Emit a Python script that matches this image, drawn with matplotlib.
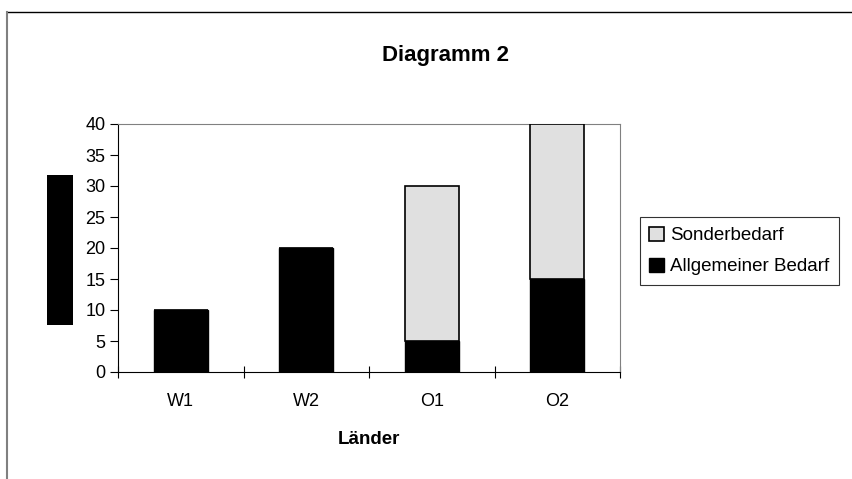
import matplotlib.pyplot as plt
from matplotlib.patches import Rectangle
from matplotlib.lines import Line2D
import numpy as np

plt.rcParams['font.family'] = ['Liberation Sans', 'DejaVu Sans']

laender = ['W1', 'W2', 'O1', 'O2']
allgemein = [10, 20, 5, 15]
sonder = [0, 0, 25, 25]
yticks = [0, 5, 10, 15, 20, 25, 30, 35, 40]

fig = plt.figure(figsize=(8.52, 4.79), dpi=100)
ax = fig.add_axes([118/852, 1-372/479, (620-118)/852, (372-124)/479])

x = np.arange(len(laender))
ax.bar(x, allgemein, width=0.43, color='black', edgecolor='black', label='Allgemeiner Bedarf', zorder=3)
ax.bar(x, sonder, width=0.43, bottom=allgemein, color='#e0e0e0', edgecolor='black', linewidth=1.2,
       label='Sonderbedarf', zorder=3)

ax.set_xlim(-0.5, 3.5)
ax.set_ylim(0, 40)
ax.set_yticks(yticks)
ax.set_xticks(np.arange(-0.5, 4, 1))
ax.set_xticklabels([])
ax.set_xticks(x, minor=True)
ax.set_xticklabels(laender, minor=True, fontsize=13)
ax.tick_params(axis='x', which='major', direction='inout', length=9, width=0.8)
ax.tick_params(axis='x', which='minor', length=0, pad=15)
ax.tick_params(axis='y', direction='out', length=6, width=0.8, labelsize=13, pad=3)
for s in ['top', 'right']:
    ax.spines[s].set_color('#808080')
for s in ['left', 'bottom']:
    ax.spines[s].set_color('black')

ax.set_xlabel('Länder', fontsize=13.5, fontweight='bold', labelpad=15)
fig.text(446/852, 1-56/479, 'Diagramm 2', ha='center', va='center', fontsize=16, fontweight='bold')

# schwarzer Block links (y-Achsentitel)
fig.patches.append(Rectangle((47/852, 1-325/479), 26/852, 150/479, transform=fig.transFigure,
                             facecolor='black', edgecolor='none'))

# äußerer Rahmen
fig.lines.append(Line2D([7/852, 1], [1-12/479, 1-12/479], transform=fig.transFigure, color='black', lw=1))
fig.lines.append(Line2D([7/852, 7/852], [0, 1-12/479], transform=fig.transFigure, color='#808080', lw=1.5))

h, l = ax.get_legend_handles_labels()
leg = fig.legend(h[::-1], l[::-1], loc='center left', bbox_to_anchor=(640/852, 1-251/479),
                 fontsize=13.5, frameon=True, fancybox=False, edgecolor='black',
                 handlelength=0.8, handleheight=0.8, handletextpad=0.3, borderpad=0.5,
                 labelspacing=0.7, borderaxespad=0)
leg.get_frame().set_linewidth(0.8)

fig.savefig('out.png', dpi=100)
